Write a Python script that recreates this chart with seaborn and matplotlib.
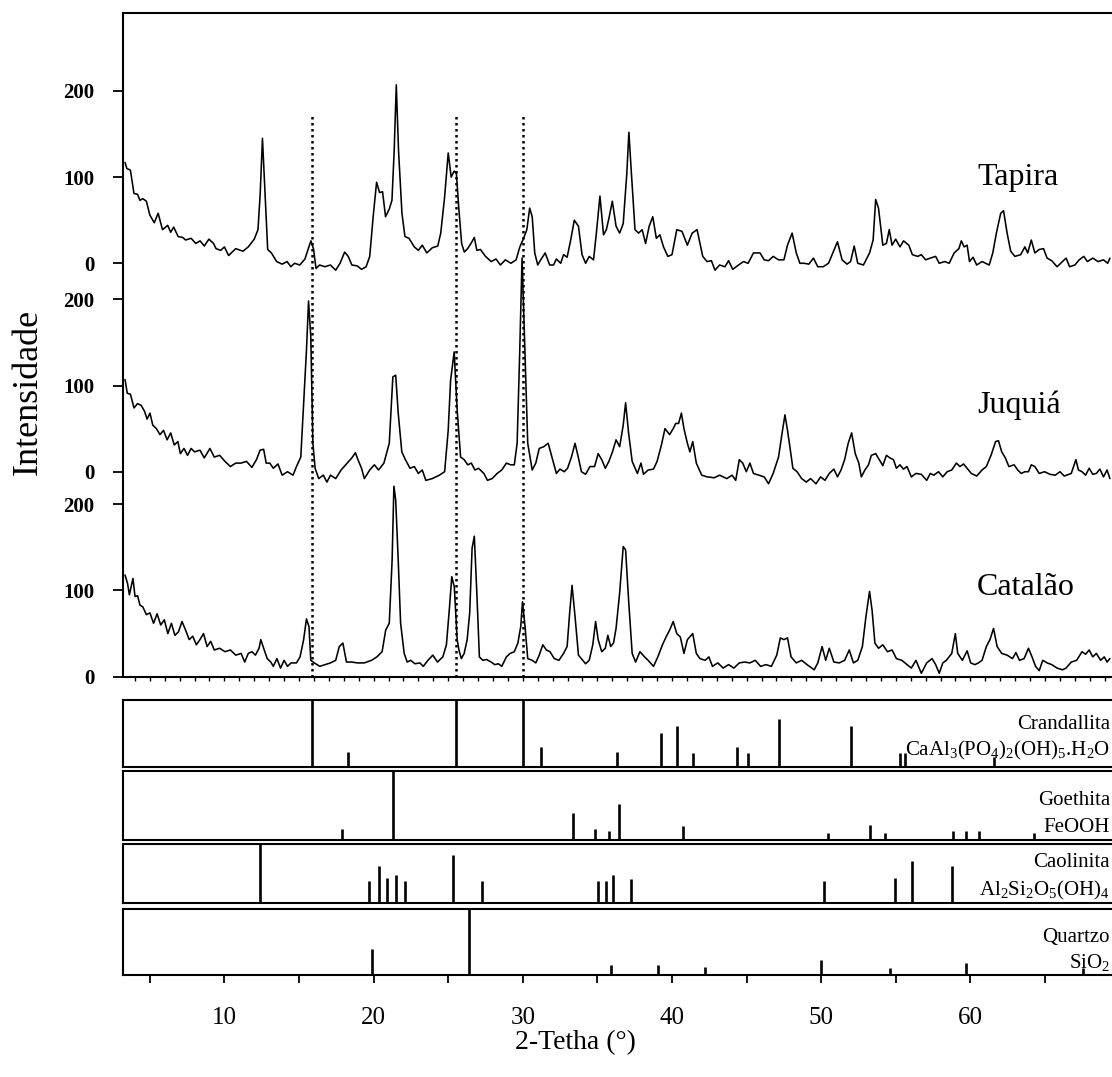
import numpy as np
import pandas as pd
import matplotlib
matplotlib.use("Agg")
import matplotlib.pyplot as plt
import seaborn as sns
from matplotlib.ticker import MultipleLocator, FuncFormatter

# ---------------- data ----------------
tapira_2theta = [3.34, 3.46, 3.7, 3.94, 4.18, 4.34, 4.53, 4.77, 5.0, 5.3, 5.56, 5.85, 6.2, 6.4, 6.6, 6.9, 7.2, 7.4, 7.77, 8.08,
                 8.37, 8.65, 8.96, 9.27, 9.44, 9.75, 10.0, 10.28, 10.76, 11.24, 11.6, 12.0, 12.25, 12.4, 12.55, 12.72, 12.9, 13.15, 13.5, 13.87,
                 14.2, 14.45, 14.7, 15.05, 15.4, 15.66, 15.8, 15.97, 16.14, 16.38, 16.74, 17.1, 17.46, 17.75, 18.06, 18.3, 18.54, 18.9, 19.19, 19.5,
                 19.74, 19.97, 20.2, 20.4, 20.6, 20.8, 21.05, 21.23, 21.38, 21.52, 21.67, 21.9, 22.1, 22.37, 22.73, 23.0, 23.26, 23.57, 23.93, 24.3,
                 24.5, 24.76, 25.0, 25.2, 25.4, 25.55, 25.7, 25.9, 26.08, 26.3, 26.56, 26.75, 26.92, 27.16, 27.5, 27.88, 28.2, 28.5, 28.83, 29.2,
                 29.55, 29.8, 30.03, 30.27, 30.46, 30.63, 30.8, 31.0, 31.2, 31.5, 31.8, 32.06, 32.25, 32.54, 32.73, 32.97, 33.21, 33.45, 33.73, 33.97,
                 34.21, 34.45, 34.74, 34.93, 35.17, 35.41, 35.6, 35.77, 36.0, 36.25, 36.49, 36.73, 36.97, 37.11, 37.28, 37.52, 37.76, 38.0, 38.23, 38.47,
                 38.71, 38.95, 39.19, 39.43, 39.72, 40.0, 40.32, 40.67, 41.03, 41.35, 41.68, 42.06, 42.35, 42.64, 42.88, 43.19, 43.55, 43.79, 44.07, 44.46,
                 44.79, 45.1, 45.46, 45.9, 46.18, 46.47, 46.78, 47.14, 47.5, 47.74, 48.05, 48.33, 48.57, 48.86, 49.17, 49.48, 49.77, 50.13, 50.49, 50.78,
                 51.09, 51.4, 51.73, 51.97, 52.21, 52.45, 52.83, 53.24, 53.48, 53.65, 53.84, 54.13, 54.37, 54.56, 54.75, 54.99, 55.28, 55.52, 55.87, 56.11,
                 56.47, 56.71, 57.0, 57.31, 57.67, 57.91, 58.27, 58.58, 58.91, 59.23, 59.39, 59.58, 59.78, 59.94, 60.18, 60.42, 60.78, 61.26, 61.5, 61.74,
                 62.03, 62.22, 62.46, 62.7, 62.98, 63.37, 63.65, 63.84, 64.08, 64.32, 64.61, 64.9, 65.14, 65.45, 65.81, 66.17, 66.41, 66.65, 67.0, 67.29,
                 67.6, 67.84, 68.2, 68.56, 68.92, 69.2, 69.35]
tapira_int = [117, 110, 108, 81, 80, 73, 75, 72, 56, 47, 58, 39, 44, 36, 42, 31, 30, 27, 29, 23,
              26, 20, 28, 23, 17, 15, 19, 9, 17, 14, 19, 28, 39, 81, 145, 81, 16, 12, 2, -1,
              2, -4, 0, -2, 5, 19, 26, 17, -6, -2, -4, -2, -8, 0, 13, 8, -2, -3, -7, -4,
              8, 54, 94, 82, 83, 54, 63, 73, 131, 207, 131, 58, 31, 29, 19, 15, 21, 12, 18, 20,
              35, 77, 128, 100, 107, 104, 66, 23, 13, 17, 24, 30, 15, 16, 8, 2, 5, -2, 4, 0,
              4, 19, 28, 39, 64, 54, 12, -2, 4, 12, -2, -2, 5, 0, 10, 7, 27, 50, 43, 10,
              0, 8, 4, 35, 78, 33, 39, 52, 72, 43, 35, 46, 104, 152, 104, 39, 35, 39, 23, 43,
              54, 29, 33, 19, 8, 10, 39, 37, 21, 35, 39, 8, 2, 3, -8, -2, -4, 3, -7, -2,
              2, 0, 12, 12, 4, 3, 8, 4, 4, 21, 35, 12, 0, 0, -1, 6, -4, -4, 0, 12,
              25, 4, -1, 2, 20, 0, -2, 12, 27, 74, 64, 21, 23, 39, 21, 28, 19, 26, 21, 10,
              8, 10, 4, 6, 8, 0, 2, 0, 12, 17, 26, 19, 21, 2, 7, -2, 2, -2, 12, 35,
              58, 61, 35, 14, 8, 10, 19, 12, 27, 12, 16, 17, 6, 3, -4, 2, 6, -4, -2, 4,
              8, 2, 6, 2, 4, 0, 6]

juquia_2theta = [3.34, 3.49, 3.7, 3.94, 4.18, 4.42, 4.65, 4.82, 5.01, 5.2, 5.44, 5.68, 5.92, 6.16, 6.4, 6.64, 6.88, 7.05, 7.29, 7.53,
                 7.77, 8.0, 8.36, 8.65, 9.03, 9.32, 9.68, 10.04, 10.4, 10.76, 11.12, 11.48, 11.84, 12.15, 12.39, 12.63, 12.8, 13.04, 13.28, 13.59,
                 13.87, 14.23, 14.6, 14.83, 15.12, 15.31, 15.5, 15.64, 15.79, 15.93, 16.08, 16.32, 16.63, 16.87, 17.11, 17.46, 17.82, 18.23, 18.54, 18.78,
                 18.95, 19.19, 19.38, 19.74, 20.05, 20.33, 20.69, 21.05, 21.29, 21.48, 21.65, 21.89, 22.13, 22.44, 22.73, 23.0, 23.26, 23.5, 23.93, 24.41,
                 24.76, 25.0, 25.16, 25.4, 25.6, 25.83, 26.07, 26.31, 26.55, 26.79, 27.03, 27.39, 27.63, 27.94, 28.28, 28.59, 28.9, 29.19, 29.43, 29.62,
                 29.79, 29.95, 30.15, 30.33, 30.63, 30.87, 31.1, 31.4, 31.7, 31.95, 32.25, 32.49, 32.78, 33.0, 33.26, 33.5, 33.69, 33.93, 34.21, 34.5,
                 34.81, 35.05, 35.29, 35.53, 35.77, 36.01, 36.25, 36.49, 36.73, 36.89, 37.09, 37.33, 37.68, 37.92, 38.09, 38.4, 38.76, 39.0, 39.29, 39.53,
                 39.84, 40.08, 40.25, 40.44, 40.63, 40.8, 41.03, 41.2, 41.39, 41.63, 41.99, 42.35, 42.83, 43.19, 43.43, 43.67, 44.03, 44.27, 44.51, 44.74,
                 44.98, 45.22, 45.46, 45.82, 46.18, 46.47, 46.78, 47.14, 47.38, 47.57, 47.74, 47.9, 48.1, 48.38, 48.69, 49.0, 49.29, 49.65, 49.96, 50.25,
                 50.54, 50.85, 51.09, 51.33, 51.57, 51.81, 52.04, 52.28, 52.52, 52.69, 52.93, 53.17, 53.36, 53.65, 53.89, 54.13, 54.37, 54.61, 54.84, 55.04,
                 55.28, 55.51, 55.75, 56.04, 56.35, 56.71, 57.07, 57.31, 57.55, 57.86, 58.15, 58.44, 58.75, 59.06, 59.3, 59.54, 59.78, 60.06, 60.42, 60.78,
                 61.07, 61.38, 61.69, 61.88, 62.1, 62.34, 62.58, 62.93, 63.17, 63.41, 63.65, 63.89, 64.08, 64.32, 64.61, 64.97, 65.33, 65.69, 66.0, 66.29,
                 66.76, 67.07, 67.24, 67.48, 67.72, 67.96, 68.2, 68.44, 68.68, 68.92, 69.16, 69.35]
juquia_int = [107, 91, 90, 74, 79, 77, 70, 61, 68, 54, 50, 43, 48, 37, 45, 31, 35, 21, 27, 19,
              27, 23, 25, 16, 27, 17, 19, 12, 6, 10, 10, 12, 5, 14, 25, 26, 10, 10, 4, 9,
              -4, 0, -4, 6, 17, 79, 141, 198, 157, 33, 4, -8, -4, -12, -4, -8, 2, 10, 16, 22,
              14, 4, -8, 2, 8, 2, 10, 33, 110, 112, 68, 23, 14, 4, 6, -2, 2, -10, -8, -4,
              0, 48, 106, 139, 72, 17, 14, 8, 10, 2, 4, -2, -10, -8, -2, 2, 10, 8, 8, 33,
              137, 248, 137, 33, 2, 10, 27, 29, 33, 17, -2, 3, 0, 4, 17, 33, 19, 0, -3, 6,
              6, 21, 14, 4, 12, 23, 37, 29, 54, 80, 45, 12, -2, 10, -3, 2, 3, 12, 31, 50,
              43, 50, 56, 56, 68, 50, 33, 23, 35, 10, -4, -6, -7, -4, -6, -8, -4, -10, 14, 10,
              0, 10, -2, -4, -6, -14, -2, 17, 45, 66, 48, 29, 4, 0, -8, -12, -8, -14, -6, -10,
              -2, 3, -6, 2, 14, 33, 45, 21, 10, -6, 2, 8, 19, 21, 14, 7, 19, 16, 14, 4,
              8, 3, 6, -6, -2, -3, -10, -2, -4, 0, -6, 0, 2, 10, 6, 9, 4, -2, -5, 2,
              6, 19, 35, 36, 23, 16, 6, 8, 2, -2, 0, 0, 8, 6, -2, 0, -3, -4, 0, -5,
              -2, 14, 2, 0, -4, 4, -3, -2, 3, -6, 2, -8]

catalao_2theta = [3.34, 3.51, 3.63, 3.77, 3.87, 4.01, 4.18, 4.34, 4.53, 4.77, 5.01, 5.25, 5.49, 5.73, 5.97, 6.21, 6.45, 6.68, 6.92, 7.16,
                  7.4, 7.64, 7.88, 8.12, 8.36, 8.6, 8.84, 9.08, 9.32, 9.68, 10.04, 10.4, 10.76, 11.12, 11.36, 11.6, 11.84, 12.08, 12.32, 12.44,
                  12.63, 12.87, 13.11, 13.28, 13.52, 13.76, 14.0, 14.23, 14.47, 14.83, 15.07, 15.31, 15.5, 15.67, 15.79, 16.03, 16.39, 16.75, 17.11, 17.46,
                  17.7, 17.94, 18.18, 18.54, 18.9, 19.38, 19.86, 20.22, 20.57, 20.81, 21.05, 21.24, 21.36, 21.48, 21.65, 21.81, 22.05, 22.25, 22.49, 22.77,
                  23.1, 23.33, 23.64, 23.97, 24.28, 24.64, 24.88, 25.07, 25.24, 25.41, 25.6, 25.72, 25.88, 26.07, 26.27, 26.44, 26.6, 26.75, 26.92, 27.09,
                  27.32, 27.56, 27.88, 28.12, 28.36, 28.59, 28.9, 29.15, 29.43, 29.67, 29.86, 29.98, 30.15, 30.33, 30.63, 30.87, 31.1, 31.34, 31.58, 31.82,
                  32.11, 32.42, 32.73, 32.97, 33.14, 33.3, 33.5, 33.73, 34.02, 34.21, 34.45, 34.69, 34.88, 35.05, 35.29, 35.53, 35.7, 35.89, 36.08, 36.25,
                  36.49, 36.73, 36.89, 37.09, 37.33, 37.56, 37.85, 38.16, 38.4, 38.76, 39.05, 39.36, 39.6, 39.84, 40.08, 40.32, 40.56, 40.8, 41.03, 41.39,
                  41.63, 41.87, 42.23, 42.47, 42.71, 43.07, 43.43, 43.79, 44.15, 44.51, 44.86, 45.22, 45.58, 45.94, 46.3, 46.66, 47.02, 47.26, 47.5, 47.74,
                  47.98, 48.33, 48.69, 49.05, 49.53, 49.77, 50.06, 50.3, 50.54, 50.85, 51.21, 51.57, 51.88, 52.16, 52.45, 52.76, 53.0, 53.24, 53.41, 53.6,
                  53.84, 54.13, 54.44, 54.75, 55.04, 55.4, 55.75, 56.04, 56.35, 56.71, 57.07, 57.43, 57.67, 57.91, 58.15, 58.39, 58.75, 58.99, 59.15, 59.46,
                  59.78, 60.02, 60.3, 60.54, 60.78, 61.07, 61.31, 61.55, 61.79, 62.1, 62.46, 62.82, 63.05, 63.29, 63.6, 63.89, 64.13, 64.37, 64.61, 64.85,
                  65.14, 65.45, 65.81, 66.17, 66.41, 66.76, 67.12, 67.48, 67.72, 67.96, 68.2, 68.44, 68.73, 68.97, 69.16, 69.35]
catalao_int = [118, 108, 95, 106, 114, 93, 94, 83, 81, 72, 74, 62, 73, 60, 66, 50, 62, 48, 52, 64,
               54, 43, 47, 37, 43, 50, 35, 41, 31, 33, 29, 31, 25, 27, 17, 27, 29, 25, 33, 43,
               33, 21, 17, 12, 21, 10, 19, 12, 16, 16, 23, 43, 67, 58, 19, 16, 12, 14, 16, 19,
               35, 39, 17, 17, 16, 16, 19, 23, 29, 54, 62, 135, 221, 205, 135, 62, 27, 17, 19, 15,
               16, 12, 19, 25, 17, 23, 37, 77, 116, 104, 43, 31, 21, 27, 43, 74, 149, 163, 97, 23,
               19, 20, 17, 14, 15, 12, 23, 27, 29, 39, 58, 87, 58, 21, 19, 16, 25, 37, 31, 29,
               21, 19, 27, 35, 74, 106, 70, 25, 19, 15, 19, 37, 64, 43, 29, 33, 48, 35, 39, 56,
               97, 151, 147, 89, 27, 17, 29, 23, 19, 12, 23, 37, 46, 54, 64, 50, 46, 27, 43, 50,
               27, 21, 19, 23, 12, 16, 10, 14, 10, 16, 17, 16, 19, 12, 14, 12, 25, 45, 43, 45,
               23, 16, 19, 14, 8, 16, 35, 19, 33, 17, 16, 19, 31, 16, 19, 35, 70, 99, 77, 39,
               33, 37, 29, 31, 21, 19, 14, 10, 19, 4, 16, 21, 14, 4, 16, 19, 27, 50, 27, 19,
               30, 16, 14, 16, 19, 35, 43, 56, 35, 27, 25, 21, 28, 19, 21, 33, 23, 12, 7, 19,
               16, 14, 10, 8, 10, 17, 19, 29, 26, 31, 23, 27, 19, 23, 17, 21]

sample_names = ["Catalão", "Juquiá", "Tapira"]
y_tick_values = [0, 100, 200]
marker_lines_2theta = [15.87, 25.52, 30.03]

crandallita_pos = [15.87, 18.3, 25.52, 30.03, 31.2, 36.33, 39.26, 40.31, 41.43, 44.38, 45.11, 47.19, 52.02, 55.28, 55.62, 61.6]
crandallita_int = [100, 22, 100, 100, 30, 22, 51, 61, 21, 30, 21, 71, 61, 21, 21, 15]
goethita_pos = [17.86, 21.32, 33.38, 34.86, 35.8, 36.47, 40.76, 50.45, 53.27, 54.3, 58.85, 59.68, 60.6, 64.26]
goethita_int = [15, 100, 38, 15, 13, 52, 20, 9, 22, 9, 12, 12, 12, 9]
caolinita_pos = [12.41, 19.71, 20.38, 20.92, 21.52, 22.12, 25.34, 27.25, 35.06, 35.58, 36.07, 37.27, 50.19, 54.97, 56.11, 58.79]
caolinita_int = [100, 37, 62, 42, 48, 37, 82, 37, 37, 37, 47, 41, 37, 42, 71, 62]
quartzo_pos = [19.91, 26.41, 35.91, 39.08, 42.23, 49.97, 54.61, 59.68, 67.57]
quartzo_int = [39, 100, 15, 15, 12, 22, 10, 18, 10]

phase_names = ["Crandallita", "Goethita", "Caolinita", "Quartzo"]
phase_formulas = [r"CaAl$_3$(PO$_4$)$_2$(OH)$_5$.H$_2$O", "FeOOH",
                  r"Al$_2$Si$_2$O$_5$(OH)$_4$", r"SiO$_2$"]
x_tick_labels = ["10", "20", "30", "40", "50", "60"]

# ---------------- style ----------------
sns.set_style("white")
plt.rcParams["font.family"] = ["Liberation Serif", "DejaVu Serif"]
plt.rcParams["mathtext.fontset"] = "custom"
plt.rcParams["mathtext.rm"] = "Liberation Serif"
plt.rcParams["mathtext.it"] = "Liberation Serif:italic"
plt.rcParams["mathtext.bf"] = "Liberation Serif:bold"
plt.rcParams["mathtext.default"] = "regular"
for key in ["text.color", "axes.labelcolor", "xtick.color", "ytick.color", "axes.edgecolor"]:
    plt.rcParams[key] = "black"

W, H = 1112, 1077
fig = plt.figure(figsize=(W / 100, H / 100), dpi=100)
L = 122.5
XLIM = (3.17, 69.49)
SPW = 1.5


def fy(py):
    return 1 - py / H


def style_spines(ax):
    for s in ["left", "top", "bottom"]:
        ax.spines[s].set_visible(True)
        ax.spines[s].set_color("black")
        ax.spines[s].set_linewidth(SPW)
    ax.spines["right"].set_visible(False)


# ---------------- main XRD panel ----------------
main = fig.add_axes([L / W, fy(676.7), (W - L) / W, (676.7 - 12.7) / H])
offsets = [0.0, 237.8, 479.6]
series = [(catalao_2theta, catalao_int), (juquia_2theta, juquia_int), (tapira_2theta, tapira_int)]
frames = []
for name, off, (xs, ys) in zip(sample_names, offsets, series):
    frames.append(pd.DataFrame({"2theta": xs, "I": np.array(ys, float) + off, "amostra": name}))
df = pd.concat(frames, ignore_index=True)
for name in sample_names:
    sns.lineplot(data=df[df["amostra"] == name], x="2theta", y="I", ax=main,
                 color="black", lw=1.15, estimator=None, sort=False, legend=False)

main.vlines(marker_lines_2theta, 0, 650, colors="black", linestyles=(0, (1, 1.4)), lw=1.8)

main.set_xlim(*XLIM)
main.set_ylim(0, 770.3)
yt, yl = [], []
for off in offsets:
    for v in y_tick_values:
        yt.append(off + v)
        yl.append(str(v))
main.set_yticks(yt)
main.set_yticklabels(yl)
main.tick_params(axis="y", which="major", length=7, width=1.3, pad=13, labelsize=15,
                 direction="out", left=True, colors="black")
for t in main.get_yticklabels():
    t.set_fontweight("bold")
main.xaxis.set_major_locator(MultipleLocator(1))
main.tick_params(axis="x", which="major", length=3, width=1.0, direction="out", bottom=True,
                 labelbottom=False, colors="black")
main.set_xlabel("")
main.set_ylabel("Intensidade", fontsize=26, color="black")
main.yaxis.set_label_coords((28.6 - L) / (W - L), (676.7 - 391.7) / 664.0)
main.yaxis.label.set_va("center")
main.yaxis.label.set_ha("center")
style_spines(main)

label_baselines = [94.8, 305.6, 570.4]
for name, yb in zip(sample_names, label_baselines):
    main.text(60.44, yb, name, fontsize=23, va="baseline", ha="left", color="black")

# ---------------- reference stick panels ----------------
panels = [(700.0, 766.7, crandallita_pos, crandallita_int, 0.56, 0.175),
          (770.7, 839.7, goethita_pos, goethita_int, 0.503, 0.116),
          (844.0, 902.7, caolinita_pos, caolinita_int, 0.603, 0.131),
          (909.0, 975.0, quartzo_pos, quartzo_int, 0.504, 0.106)]
axes_p = []
for (top, bot, pos, inten, fy1, fy2), nm, fm in zip(panels, phase_names, phase_formulas):
    ax = fig.add_axes([L / W, fy(bot), (W - L) / W, (bot - top) / H])
    ax.vlines(pos, 0, inten, colors="black", lw=1.9)
    ax.set_xlim(*XLIM)
    ax.set_ylim(0, 100)
    ax.set_yticks([])
    ax.tick_params(axis="x", length=0, labelbottom=False)
    style_spines(ax)
    ax.text(0.998, fy1, nm, transform=ax.transAxes, ha="right", va="baseline", fontsize=15, color="black")
    ax.text(0.998, fy2, fm, transform=ax.transAxes, ha="right", va="baseline", fontsize=15, color="black")
    axes_p.append(ax)

q = axes_p[-1]
q.xaxis.set_major_locator(MultipleLocator(5))
lab_map = {float(s): s for s in x_tick_labels}
q.xaxis.set_major_formatter(FuncFormatter(lambda v, p: lab_map.get(round(v, 6), "")))
q.tick_params(axis="x", length=6, width=1.3, direction="out", bottom=True, labelbottom=True,
              labelsize=18, pad=17, colors="black")
q.set_xlabel("2-Tetha (°)", fontsize=20, color="black")
q.xaxis.set_label_coords((575 - L) / (W - L), (975 - 1043) / 66.0)
q.xaxis.label.set_va("center")

fig.savefig("out.png", dpi=100)
